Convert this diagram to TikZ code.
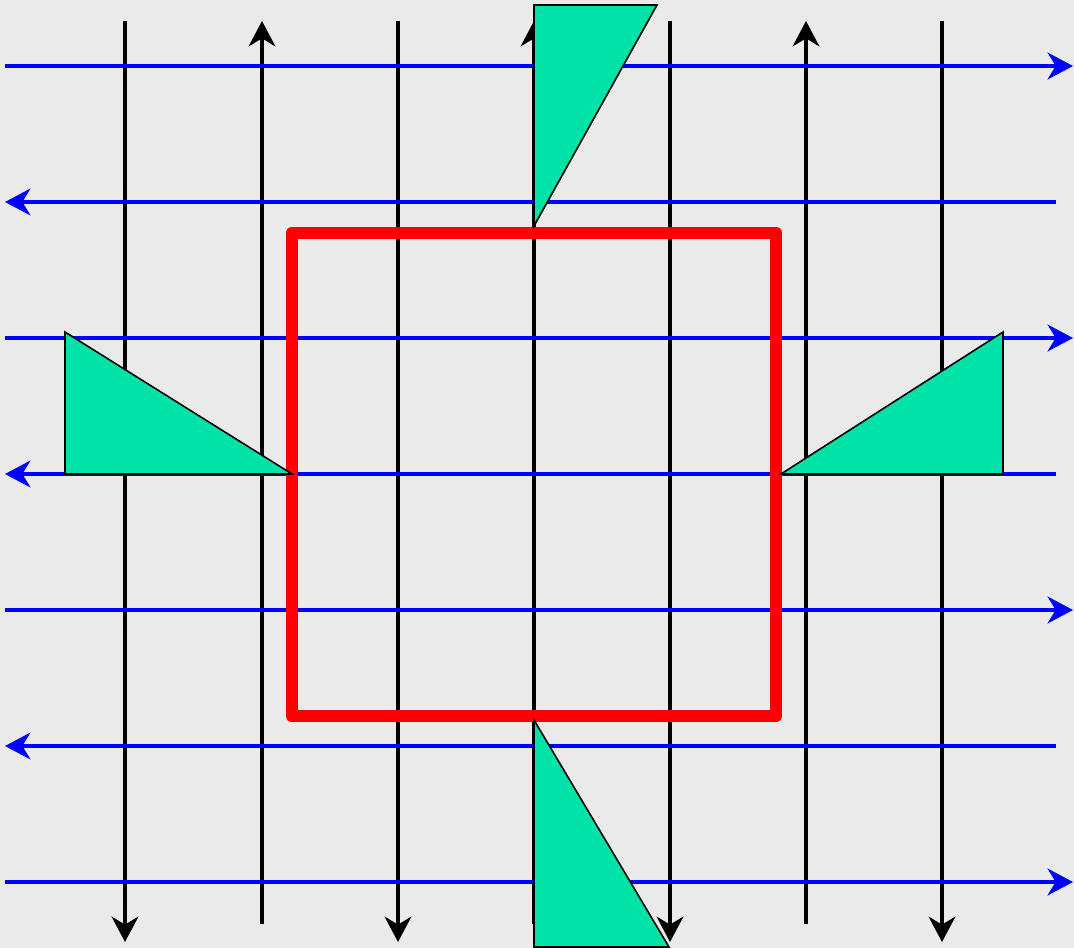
\documentclass[tikz,border=0pt]{standalone}
\usetikzlibrary{arrows.meta}
\definecolor{bgc}{HTML}{EAEAEA}
\definecolor{tri}{HTML}{00E2A8}
\definecolor{bl}{HTML}{0000FF}
\definecolor{rd}{HTML}{FF0000}
\begin{document}
\begin{tikzpicture}[x=0.75pt,y=-0.75pt,
  tip/.style={-{Stealth[length=19pt,width=20pt,inset=6pt]}},
  vline/.style={tip,draw=black,line width=3.3pt},
  hline/.style={tip,draw=bl,line width=3.3pt},
  frame/.style={draw=rd,line width=9.5pt,line join=round},
  wedge/.style={fill=tri,draw=black,line width=1.2pt}]
\fill[bgc] (0,0) rectangle (1074,948);
\useasboundingbox (0,0) rectangle (1074,948);
% vertical black lines
\foreach \x in {125,398,670,942} {\draw[vline] (\x,21) -- (\x,942);}
\foreach \x in {262,534,806} {\draw[vline] (\x,924) -- (\x,21);}
% horizontal blue lines
\foreach \y in {66,338,610,882} {\draw[hline] (5,\y) -- (1073,\y);}
\foreach \y in {202,474,746} {\draw[hline] (1056,\y) -- (5,\y);}
% red square
\draw[frame] (292,233) rectangle (776,716);
% green triangles
\coordinate (t1) at (534,5); \coordinate (t2) at (657,5); \coordinate (t3) at (534,226);
\draw[wedge] (t1) -- (t2) -- (t3) -- cycle;
\coordinate (b1) at (534,720); \coordinate (b2) at (669,947); \coordinate (b3) at (534,947);
\draw[wedge] (b1) -- (b2) -- (b3) -- cycle;
\coordinate (l1) at (65,332); \coordinate (l2) at (292,474); \coordinate (l3) at (65,474);
\draw[wedge] (l1) -- (l2) -- (l3) -- cycle;
\coordinate (r1) at (1003,332); \coordinate (r2) at (1003,474); \coordinate (r3) at (781,474);
\draw[wedge] (r1) -- (r2) -- (r3) -- cycle;
\end{tikzpicture}
\end{document}
